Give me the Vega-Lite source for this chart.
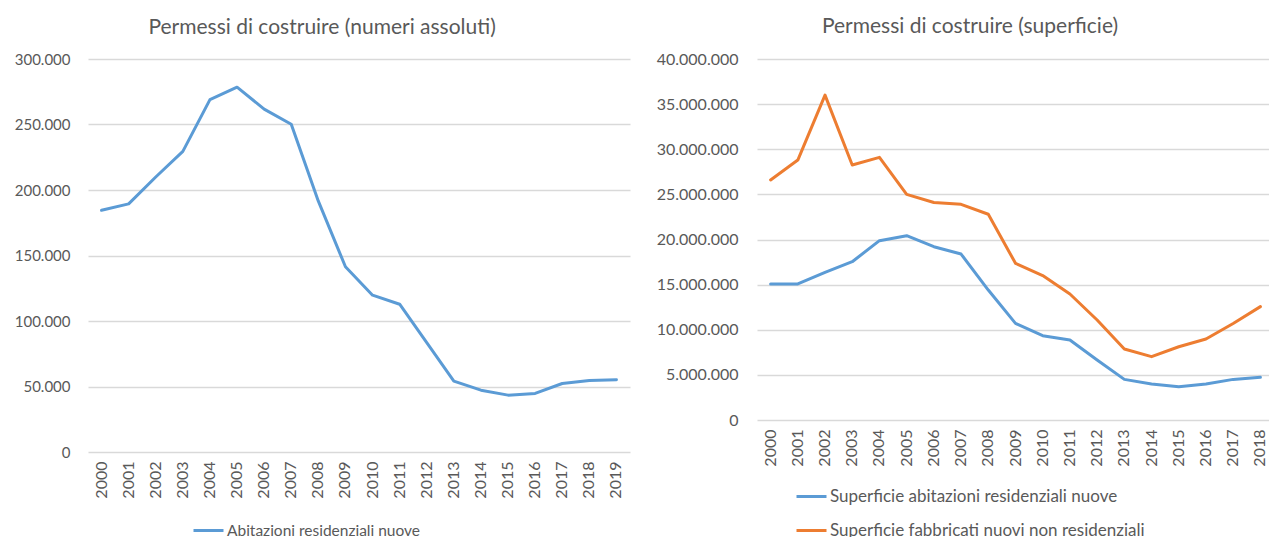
{
  "$schema": "https://vega.github.io/schema/vega-lite/v6.json",
  "padding": {"left": 14, "top": 16, "right": 0, "bottom": 0},
  "spacing": 20,
  "background": "white",
  "config": {
    "locale": {"number": {"decimal": ",", "thousands": ".", "grouping": [3], "currency": ["€", ""]}},
    "view": {"stroke": null},
    "font": "Lato",
    "axis": {"domain": false, "ticks": false, "labelColor": "#595959", "labelFont": "Lato", "labelFontSize": 16, "gridColor": "#D9D9D9", "gridWidth": 1.3, "title": null},
    "title": {"font": "Lato", "fontSize": 21, "fontWeight": "normal", "color": "#595959", "anchor": "middle", "frame": "bounds", "offset": 14},
    "legend": {"labelFont": "Lato", "labelFontSize": 15.5, "labelColor": "#595959", "labelLimit": 500, "labelOffset": 2, "symbolType": "stroke", "symbolSize": 900, "symbolStrokeWidth": 3, "padding": 0, "offset": 0, "title": null}
  },
  "datasets": {
    "assoluti": [
      {"anno": "2000", "serie": "Abitazioni residenziali nuove", "valore": 184500},
      {"anno": "2001", "serie": "Abitazioni residenziali nuove", "valore": 189400},
      {"anno": "2002", "serie": "Abitazioni residenziali nuove", "valore": 209900},
      {"anno": "2003", "serie": "Abitazioni residenziali nuove", "valore": 229500},
      {"anno": "2004", "serie": "Abitazioni residenziali nuove", "valore": 269000},
      {"anno": "2005", "serie": "Abitazioni residenziali nuove", "valore": 278500},
      {"anno": "2006", "serie": "Abitazioni residenziali nuove", "valore": 261700},
      {"anno": "2007", "serie": "Abitazioni residenziali nuove", "valore": 250200},
      {"anno": "2008", "serie": "Abitazioni residenziali nuove", "valore": 191500},
      {"anno": "2009", "serie": "Abitazioni residenziali nuove", "valore": 141400},
      {"anno": "2010", "serie": "Abitazioni residenziali nuove", "valore": 119700},
      {"anno": "2011", "serie": "Abitazioni residenziali nuove", "valore": 112800},
      {"anno": "2012", "serie": "Abitazioni residenziali nuove", "valore": 83500},
      {"anno": "2013", "serie": "Abitazioni residenziali nuove", "valore": 54100},
      {"anno": "2014", "serie": "Abitazioni residenziali nuove", "valore": 47200},
      {"anno": "2015", "serie": "Abitazioni residenziali nuove", "valore": 43400},
      {"anno": "2016", "serie": "Abitazioni residenziali nuove", "valore": 44700},
      {"anno": "2017", "serie": "Abitazioni residenziali nuove", "valore": 52300},
      {"anno": "2018", "serie": "Abitazioni residenziali nuove", "valore": 54600},
      {"anno": "2019", "serie": "Abitazioni residenziali nuove", "valore": 55100}
    ],
    "superficie": [
      {"anno": "2000", "serie": "Superficie abitazioni residenziali nuove", "valore": 15070000},
      {"anno": "2001", "serie": "Superficie abitazioni residenziali nuove", "valore": 15070000},
      {"anno": "2002", "serie": "Superficie abitazioni residenziali nuove", "valore": 16360000},
      {"anno": "2003", "serie": "Superficie abitazioni residenziali nuove", "valore": 17540000},
      {"anno": "2004", "serie": "Superficie abitazioni residenziali nuove", "valore": 19870000},
      {"anno": "2005", "serie": "Superficie abitazioni residenziali nuove", "valore": 20420000},
      {"anno": "2006", "serie": "Superficie abitazioni residenziali nuove", "valore": 19200000},
      {"anno": "2007", "serie": "Superficie abitazioni residenziali nuove", "valore": 18390000},
      {"anno": "2008", "serie": "Superficie abitazioni residenziali nuove", "valore": 14400000},
      {"anno": "2009", "serie": "Superficie abitazioni residenziali nuove", "valore": 10710000},
      {"anno": "2010", "serie": "Superficie abitazioni residenziali nuove", "valore": 9340000},
      {"anno": "2011", "serie": "Superficie abitazioni residenziali nuove", "valore": 8860000},
      {"anno": "2012", "serie": "Superficie abitazioni residenziali nuove", "valore": 6650000},
      {"anno": "2013", "serie": "Superficie abitazioni residenziali nuove", "valore": 4500000},
      {"anno": "2014", "serie": "Superficie abitazioni residenziali nuove", "valore": 3990000},
      {"anno": "2015", "serie": "Superficie abitazioni residenziali nuove", "valore": 3690000},
      {"anno": "2016", "serie": "Superficie abitazioni residenziali nuove", "valore": 3990000},
      {"anno": "2017", "serie": "Superficie abitazioni residenziali nuove", "valore": 4500000},
      {"anno": "2018", "serie": "Superficie abitazioni residenziali nuove", "valore": 4730000},
      {"anno": "2000", "serie": "Superficie fabbricati nuovi non residenziali", "valore": 26600000},
      {"anno": "2001", "serie": "Superficie fabbricati nuovi non residenziali", "valore": 28800000},
      {"anno": "2002", "serie": "Superficie fabbricati nuovi non residenziali", "valore": 36000000},
      {"anno": "2003", "serie": "Superficie fabbricati nuovi non residenziali", "valore": 28250000},
      {"anno": "2004", "serie": "Superficie fabbricati nuovi non residenziali", "valore": 29100000},
      {"anno": "2005", "serie": "Superficie fabbricati nuovi non residenziali", "valore": 25000000},
      {"anno": "2006", "serie": "Superficie fabbricati nuovi non residenziali", "valore": 24100000},
      {"anno": "2007", "serie": "Superficie fabbricati nuovi non residenziali", "valore": 23900000},
      {"anno": "2008", "serie": "Superficie fabbricati nuovi non residenziali", "valore": 22800000},
      {"anno": "2009", "serie": "Superficie fabbricati nuovi non residenziali", "valore": 17360000},
      {"anno": "2010", "serie": "Superficie fabbricati nuovi non residenziali", "valore": 16000000},
      {"anno": "2011", "serie": "Superficie fabbricati nuovi non residenziali", "valore": 13960000},
      {"anno": "2012", "serie": "Superficie fabbricati nuovi non residenziali", "valore": 11080000},
      {"anno": "2013", "serie": "Superficie fabbricati nuovi non residenziali", "valore": 7870000},
      {"anno": "2014", "serie": "Superficie fabbricati nuovi non residenziali", "valore": 7020000},
      {"anno": "2015", "serie": "Superficie fabbricati nuovi non residenziali", "valore": 8120000},
      {"anno": "2016", "serie": "Superficie fabbricati nuovi non residenziali", "valore": 8970000},
      {"anno": "2017", "serie": "Superficie fabbricati nuovi non residenziali", "valore": 10700000},
      {"anno": "2018", "serie": "Superficie fabbricati nuovi non residenziali", "valore": 12560000}
    ]
  },
  "resolve": {"scale": {"color": "independent"}, "legend": {"color": "independent"}},
  "hconcat": [
    {
      "title": {"text": "Permessi di costruire (numeri assoluti)"},
      "width": 542,
      "height": 393,
      "data": {"name": "assoluti"},
      "mark": {"type": "line", "strokeWidth": 3, "strokeJoin": "round", "strokeCap": "round"},
      "encoding": {
        "x": {"field": "anno", "type": "ordinal", "scale": {"type": "band", "paddingInner": 0, "paddingOuter": 0},
              "axis": {"labelAngle": -90, "grid": false, "labelPadding": 9}},
        "y": {"field": "valore", "type": "quantitative", "scale": {"domain": [0, 300000]},
              "axis": {"values": [0, 50000, 100000, 150000, 200000, 250000, 300000], "format": ",.0f", "labelFontSize": 15, "labelPadding": 18, "minExtent": 73, "maxExtent": 73}},
        "color": {"field": "serie", "type": "nominal", "scale": {"domain": ["Abitazioni residenziali nuove"], "range": ["#5B9BD5"]},
                  "legend": {"orient": "none", "legendX": 104, "legendY": 455}}
      }
    },
    {
      "title": {"text": "Permessi di costruire (superficie)", "dx": 8},
      "width": 512,
      "height": 361,
      "data": {"name": "superficie"},
      "mark": {"type": "line", "strokeWidth": 3, "strokeJoin": "round", "strokeCap": "round"},
      "encoding": {
        "x": {"field": "anno", "type": "ordinal", "scale": {"type": "band", "paddingInner": 0, "paddingOuter": 0, "range": [0, 517]},
              "axis": {"labelAngle": -90, "grid": false, "labelPadding": 9}},
        "y": {"field": "valore", "type": "quantitative", "scale": {"domain": [0, 40000000]},
              "axis": {"values": [0, 5000000, 10000000, 15000000, 20000000, 25000000, 30000000, 35000000, 40000000], "format": ",.0f", "labelPadding": 19, "minExtent": 107, "maxExtent": 107}},
        "color": {"field": "serie", "type": "nominal",
                  "scale": {"domain": ["Superficie abitazioni residenziali nuove", "Superficie fabbricati nuovi non residenziali"], "range": ["#5B9BD5", "#ED7D31"]},
                  "legend": {"orient": "none", "legendX": 38, "legendY": 421, "rowPadding": 9, "labelFontSize": 17}}
      }
    }
  ]
}
